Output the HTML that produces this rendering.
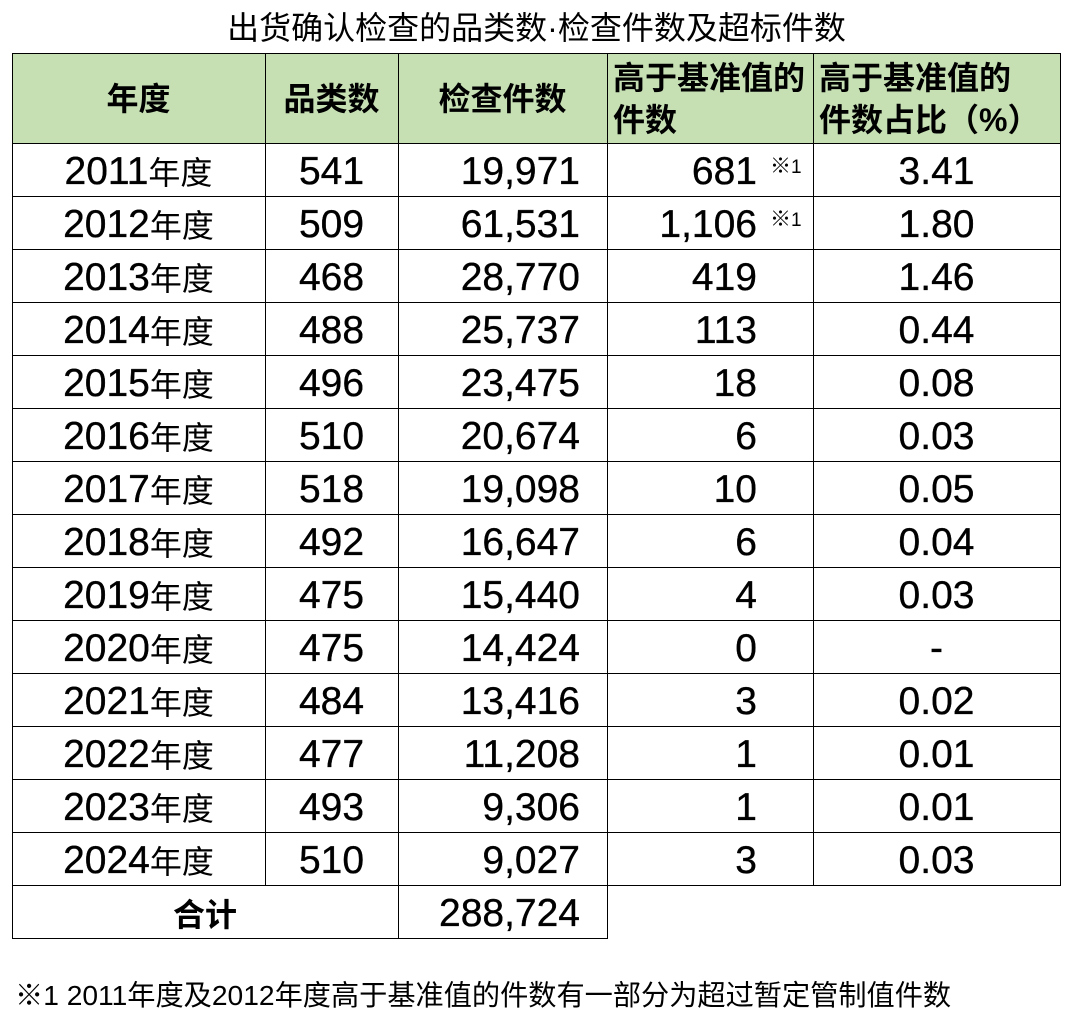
<!DOCTYPE html>
<html>
<head>
<meta charset="utf-8">
<style>
  html, body { margin:0; padding:0; background:#fff; }
  body { width:1073px; height:1022px; position:relative; overflow:hidden;
         font-family:"Liberation Sans","Noto Sans CJK SC",sans-serif; color:#000; }
  .title { position:absolute; left:0; top:8px; width:1073px; height:40px; line-height:40px;
           font-size:32px; text-align:center; white-space:nowrap; }
  .hfill { position:absolute; left:12px; top:53px; width:1048px; height:90px; background:#c6e0b4; }
  .hl { position:absolute; height:1px; background:#000; }
  .vl { position:absolute; width:1px; background:#000; }
  .h { position:absolute; font-weight:bold; font-size:32px; white-space:nowrap; }
  .h1 { top:54px; height:90px; line-height:90px; text-align:center; }
  .h2 { top:57px; line-height:42px; text-align:left; }
  .r { position:absolute; left:0; width:1073px; height:53px; }
  .r div { position:absolute; top:0; height:53px; line-height:53px; font-size:39px; white-space:nowrap; box-sizing:border-box; -webkit-text-stroke:0.35px #000; }
  .k { font-size:32px; line-height:1; -webkit-text-stroke:0; }
  .c1 { left:12px; width:253px; text-align:center; }
  .c2 { left:265px; width:133px; text-align:center; }
  .c3 { left:398px; width:209px; text-align:right; padding-right:27px; }
  .c4 { left:607px; width:206px; text-align:right; padding-right:56px; }
  .c5 { left:813px; width:247px; text-align:center; }
  .r div.ct { left:12px; width:386px; text-align:center; font-weight:bold; -webkit-text-stroke:0; }
  .sup { position:absolute; font-size:19px; line-height:19px; height:19px; white-space:nowrap; }
  .sup .m { font-size:21px; }
  .foot { position:absolute; left:15px; top:975px; height:40px; line-height:40px; font-size:28.2px; white-space:nowrap; }
</style>
</head>
<body>
<div class="title">出货确认检查的品类数·检查件数及超标件数</div>

<div class="hfill"></div>

<!-- horizontal lines -->
<div class="hl" style="left:12px;top:53px;width:1049px"></div>
<div class="hl" style="left:12px;top:143px;width:1049px"></div>
<div class="hl" style="left:12px;top:196px;width:1049px"></div>
<div class="hl" style="left:12px;top:249px;width:1049px"></div>
<div class="hl" style="left:12px;top:302px;width:1049px"></div>
<div class="hl" style="left:12px;top:355px;width:1049px"></div>
<div class="hl" style="left:12px;top:408px;width:1049px"></div>
<div class="hl" style="left:12px;top:461px;width:1049px"></div>
<div class="hl" style="left:12px;top:514px;width:1049px"></div>
<div class="hl" style="left:12px;top:567px;width:1049px"></div>
<div class="hl" style="left:12px;top:620px;width:1049px"></div>
<div class="hl" style="left:12px;top:673px;width:1049px"></div>
<div class="hl" style="left:12px;top:726px;width:1049px"></div>
<div class="hl" style="left:12px;top:779px;width:1049px"></div>
<div class="hl" style="left:12px;top:832px;width:1049px"></div>
<div class="hl" style="left:12px;top:885px;width:1049px"></div>
<div class="hl" style="left:12px;top:938px;width:596px"></div>

<!-- vertical lines -->
<div class="vl" style="left:12px;top:53px;height:886px"></div>
<div class="vl" style="left:265px;top:53px;height:833px"></div>
<div class="vl" style="left:398px;top:53px;height:886px"></div>
<div class="vl" style="left:607px;top:53px;height:886px"></div>
<div class="vl" style="left:813px;top:53px;height:833px"></div>
<div class="vl" style="left:1060px;top:53px;height:833px"></div>

<!-- header -->
<div class="h h1" style="left:12px;width:253px">年度</div>
<div class="h h1" style="left:265px;width:133px">品类数</div>
<div class="h h1" style="left:398px;width:209px">检查件数</div>
<div class="h h2" style="left:613px">高于基准值的<br>件数</div>
<div class="h h2" style="left:819px">高于基准值的<br>件数占比（%）</div>

<!-- data rows -->
<div class="r" style="top:145px"><div class="c1">2011<span class="k">年度</span></div><div class="c2">541</div><div class="c3">19,971</div><div class="c4">681</div><div class="c5">3.41</div></div>
<div class="r" style="top:198px"><div class="c1">2012<span class="k">年度</span></div><div class="c2">509</div><div class="c3">61,531</div><div class="c4">1,106</div><div class="c5">1.80</div></div>
<div class="r" style="top:251px"><div class="c1">2013<span class="k">年度</span></div><div class="c2">468</div><div class="c3">28,770</div><div class="c4">419</div><div class="c5">1.46</div></div>
<div class="r" style="top:304px"><div class="c1">2014<span class="k">年度</span></div><div class="c2">488</div><div class="c3">25,737</div><div class="c4">113</div><div class="c5">0.44</div></div>
<div class="r" style="top:357px"><div class="c1">2015<span class="k">年度</span></div><div class="c2">496</div><div class="c3">23,475</div><div class="c4">18</div><div class="c5">0.08</div></div>
<div class="r" style="top:410px"><div class="c1">2016<span class="k">年度</span></div><div class="c2">510</div><div class="c3">20,674</div><div class="c4">6</div><div class="c5">0.03</div></div>
<div class="r" style="top:463px"><div class="c1">2017<span class="k">年度</span></div><div class="c2">518</div><div class="c3">19,098</div><div class="c4">10</div><div class="c5">0.05</div></div>
<div class="r" style="top:516px"><div class="c1">2018<span class="k">年度</span></div><div class="c2">492</div><div class="c3">16,647</div><div class="c4">6</div><div class="c5">0.04</div></div>
<div class="r" style="top:569px"><div class="c1">2019<span class="k">年度</span></div><div class="c2">475</div><div class="c3">15,440</div><div class="c4">4</div><div class="c5">0.03</div></div>
<div class="r" style="top:622px"><div class="c1">2020<span class="k">年度</span></div><div class="c2">475</div><div class="c3">14,424</div><div class="c4">0</div><div class="c5">-</div></div>
<div class="r" style="top:675px"><div class="c1">2021<span class="k">年度</span></div><div class="c2">484</div><div class="c3">13,416</div><div class="c4">3</div><div class="c5">0.02</div></div>
<div class="r" style="top:728px"><div class="c1">2022<span class="k">年度</span></div><div class="c2">477</div><div class="c3">11,208</div><div class="c4">1</div><div class="c5">0.01</div></div>
<div class="r" style="top:781px"><div class="c1">2023<span class="k">年度</span></div><div class="c2">493</div><div class="c3">9,306</div><div class="c4">1</div><div class="c5">0.01</div></div>
<div class="r" style="top:834px"><div class="c1">2024<span class="k">年度</span></div><div class="c2">510</div><div class="c3">9,027</div><div class="c4">3</div><div class="c5">0.03</div></div>
<div class="r" style="top:887px"><div class="ct"><span class="k">合计</span></div><div class="c3">288,724</div></div>

<!-- superscript notes -->
<div class="sup" style="left:770px;top:157px"><span class="m">※</span>1</div>
<div class="sup" style="left:770px;top:210px"><span class="m">※</span>1</div>

<div class="foot">※1 2011年度及2012年度高于基准值的件数有一部分为超过暂定管制值件数</div>
</body>
</html>
